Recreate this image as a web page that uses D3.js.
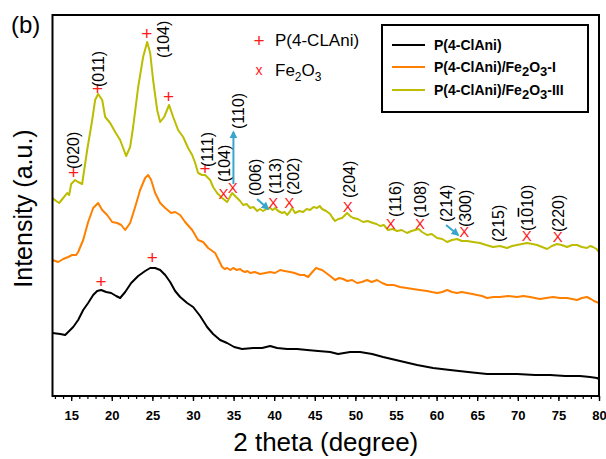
<!DOCTYPE html>
<html>
<head>
<meta charset="utf-8">
<script src="https://cdn.jsdelivr.net/npm/d3@7"></script>
<style>
  body { margin: 0; background: #fff; }
  svg { display: block; }
</style>
</head>
<body>
<svg id="chart" width="606" height="459"></svg>
<script>
// ---- XRD patterns: 2θ (degree) and stacked intensity (a.u.) ----
const thetaPure = [12.7, 13.65, 14.26, 14.88, 15.25, 15.86, 16.48, 17.09, 17.71, 18.2, 18.69, 19.31, 19.92, 20.54, 21.03, 21.65, 22.39, 23.25, 24.11, 24.73, 25.34, 25.96, 26.58, 27.19, 27.8, 28.42, 29.28, 30.02, 30.88, 31.74, 32.48, 33.34, 34.2, 35.07, 36.05, 37.41, 38.51, 39.5, 40.36, 41.59, 42.82, 44.05, 45.41, 46.89, 47.87, 49.35, 50.58, 52.06, 53.41, 55.5, 57.6, 59.57, 61.66, 63.87, 66.21, 67.81, 69.91, 72.12, 73.97, 75.82, 77.66, 78.89, 79.75, 80];
const intensityPure = [63, 62, 61, 66, 69, 76, 86, 93, 101, 105, 106, 104, 103, 100, 98, 104, 113, 120, 125, 128, 128, 126, 121, 114, 105, 99, 93, 89, 80, 69, 62, 56, 53, 49, 47, 48, 48, 50, 48, 47, 47, 46, 45, 44, 42, 44, 44, 42, 39, 35, 31, 28, 26, 24, 22, 22, 22, 21, 21, 20, 20, 19, 18, 17];

const thetaFe1 = [12.7, 13.4, 14.02, 14.63, 15.12, 15.62, 15.86, 16.48, 17.09, 17.71, 18.32, 18.82, 19.43, 20.05, 20.66, 21.16, 21.65, 22.26, 22.88, 23.49, 24.11, 24.48, 24.85, 25.34, 25.96, 26.58, 27.31, 27.8, 28.42, 29.03, 29.9, 30.63, 31.25, 31.87, 32.73, 33.59, 33.9, 34.2, 34.6, 34.94, 35.4, 35.8, 36.1, 36.42, 36.7, 37.04, 37.6, 38.27, 38.9, 39.5, 40.1, 40.73, 41.3, 41.96, 42.5, 43.19, 43.7, 44.18, 44.7, 45.16, 45.5, 45.9, 46.4, 46.89, 47.5, 48.0, 48.49, 49.0, 49.6, 50.21, 50.8, 51.44, 52.0, 52.67, 53.3, 53.9, 54.7, 55.5, 56.3, 57.1, 57.9, 58.83, 59.4, 60.06, 60.7, 61.29, 61.9, 62.52, 63.1, 63.75, 64.4, 64.98, 65.6, 66.21, 67.0, 67.81, 68.8, 69.91, 70.7, 71.51, 72.1, 72.74, 73.5, 74.34, 75.2, 76.06, 76.7, 77.29, 77.9, 78.52, 79.0, 79.38, 80];
const intensityFe1 = [136, 134, 137, 139, 141, 141, 144, 156, 174, 188, 193, 186, 181, 174, 173, 171, 166, 173, 189, 206, 218, 221, 216, 203, 193, 188, 183, 184, 181, 174, 166, 156, 154, 148, 143, 129, 127, 128, 126, 128, 126, 127, 125, 124, 125, 123, 124, 122, 123, 124, 123, 126, 125, 124, 123, 121, 121, 119, 124, 128, 127, 126, 123, 120, 116, 118, 117, 115, 116, 113, 114, 116, 114, 116, 113, 111, 111, 109, 108, 107, 106, 105, 104, 103, 104, 106, 104, 103, 104, 103, 102, 101, 100, 98, 99, 99, 100, 99, 100, 99, 98, 97, 98, 99, 98, 98, 97, 96, 98, 99, 97, 95, 93];

const thetaFe3 = [12.7, 13.15, 13.52, 14.02, 14.51, 14.75, 15.0, 15.49, 15.86, 16.35, 16.97, 17.59, 17.95, 18.32, 18.82, 19.19, 19.8, 20.42, 21.03, 21.77, 22.26, 22.63, 23.25, 23.86, 24.36, 24.73, 25.09, 25.59, 25.96, 26.45, 27.06, 27.56, 28.17, 28.79, 29.4, 29.9, 30.27, 30.63, 31.13, 31.5, 32.11, 32.48, 32.97, 33.59, 34.2, 34.82, 35.44, 35.8, 36.18, 36.6, 37.04, 37.45, 37.9, 38.25, 38.64, 39.05, 39.5, 39.8, 40.11, 40.5, 40.98, 41.3, 41.59, 41.9, 42.21, 42.58, 43.1, 43.56, 44.0, 44.42, 44.85, 45.28, 45.6, 45.9, 46.4, 46.89, 47.2, 47.5, 47.9, 48.36, 48.98, 49.35, 49.72, 50.3, 50.95, 51.5, 52.18, 52.6, 53.04, 53.5, 54.02, 54.6, 55.13, 55.7, 56.36, 56.9, 57.35, 57.8, 58.21, 58.83, 59.4, 60.06, 60.7, 61.29, 61.9, 62.52, 63.1, 63.75, 64.5, 65.35, 66.1, 66.95, 67.8, 68.67, 69.3, 69.91, 70.5, 71.14, 71.8, 72.37, 73.0, 73.6, 74.2, 74.83, 75.4, 76.06, 76.7, 77.29, 77.9, 78.52, 78.9, 79.26, 79.7, 80];
const intensityFe3 = [198, 195, 193, 198, 203, 201, 212, 216, 214, 212, 246, 276, 296, 302, 296, 279, 273, 264, 256, 240, 249, 269, 309, 339, 354, 343, 316, 286, 274, 279, 291, 279, 266, 259, 248, 241, 233, 223, 221, 221, 216, 209, 203, 198, 194, 203, 198, 195, 191, 192, 188, 189, 185, 187, 185, 187, 188, 186, 188, 185, 183, 184, 181, 184, 188, 183, 185, 184, 187, 186, 189, 188, 190, 187, 185, 182, 178, 175, 177, 178, 183, 180, 178, 177, 174, 175, 173, 172, 170, 171, 166, 167, 165, 166, 163, 165, 166, 167, 164, 161, 162, 158, 157, 154, 156, 157, 155, 155, 154, 153, 151, 149, 150, 148, 150, 151, 152, 153, 152, 151, 149, 147, 150, 152, 151, 149, 151, 151, 149, 148, 150, 149, 147, 144];

const seriesNames = ["P(4-ClAni)", "P(4-ClAni)/Fe", "P(4-ClAni)/Fe"];
const seriesColors = ["#000000", "#ff8000", "#bcbc00"];
const xTicks = [15, 20, 25, 30, 35, 40, 45, 50, 55, 60, 65, 70, 75, 80];

// P(4-ClAni) reflections, marked with +
const polyPeakTheta = [18.69, 25.0, 15.28, 18.24, 24.32, 26.98, 31.5];
const polyPeakLevel = [115, 139, 224, 308, 363, 300, 228];

// Fe2O3 reflections, marked with x
const ferPeakTheta = [33.75, 34.9, 39.9, 41.87, 49.06, 54.35, 57.96, 63.42, 71.1, 74.92];
const ferPeakLevel = [202, 208, 193, 193, 189, 172, 172, 164, 160, 159];

// hkl indices, written upward from their anchor
const hklText = ["(020)", "(011)", "(104)", "(111)", "(104)", "(110)", "(006)", "(113)", "(202)", "(204)", "(116)", "(108)", "(214)", "(300)", "(215)", "(1010)", "(220)"];
const hklTheta = [15.25, 18.32, 26.33, 31.74, 33.84, 35.56, 37.65, 40.11, 42.33, 49.22, 54.89, 57.96, 61.17, 63.5, 67.57, 71.14, 74.95];
const hklLevel = [227, 309, 338, 229, 214, 267, 200, 202, 201, 198, 179, 178, 174, 169, 154, 165, 164];

// pointer arrows: start / end (2θ, level)
const arrowFrom = [[34.98, 212], [37.9, 197], [61.17, 171]];
const arrowTo = [[34.98, 264], [39.25, 187], [62.65, 161]];

// ---- layout ----
const svg = d3.select("#chart");
const plotL = 52.5, plotR = 599, plotT = 15, plotB = 396;
const x = d3.scaleLinear().domain([12.7, 80]).range([plotL, plotR]);
const y = d3.scaleLinear().domain([0, 381]).range([plotB, plotT]);
const font = "Arial, 'Liberation Sans', sans-serif";

const defs = svg.append("defs");
defs.append("clipPath").attr("id", "plotArea")
  .append("rect").attr("x", plotL).attr("y", plotT)
  .attr("width", plotR - plotL).attr("height", plotB - plotT);
defs.append("marker").attr("id", "head")
  .attr("viewBox", "0 0 10 10").attr("refX", 8).attr("refY", 5)
  .attr("markerWidth", 4).attr("markerHeight", 4)
  .attr("orient", "auto")
  .append("path").attr("d", "M0,0 L10,5 L0,10 Z").attr("fill", "#3aa5cc");

// patterns
const line = d3.line().x(d => x(d[0])).y(d => y(d[1]));
const patterns = [
  d3.zip(thetaPure, intensityPure),
  d3.zip(thetaFe1, intensityFe1),
  d3.zip(thetaFe3, intensityFe3)
];
svg.append("g").attr("clip-path", "url(#plotArea)")
  .selectAll("path").data(patterns).join("path")
  .attr("d", line)
  .attr("fill", "none")
  .attr("stroke", (d, i) => seriesColors[i])
  .attr("stroke-width", 2)
  .attr("stroke-linejoin", "round");

// x axis: minor ticks every degree, labelled every 5
const minor = svg.append("g").attr("transform", `translate(0,${plotB})`)
  .call(d3.axisBottom(x).tickValues(d3.range(13, 81)).tickSize(3).tickFormat(""));
minor.select(".domain").remove();
minor.selectAll("line").attr("stroke", "#000").attr("stroke-width", 1.2);

const major = svg.append("g").attr("transform", `translate(0,${plotB})`)
  .call(d3.axisBottom(x).tickValues(xTicks).tickSize(5).tickPadding(10).tickSizeOuter(0));
major.select(".domain").remove();
major.selectAll("line").attr("stroke", "#000").attr("stroke-width", 1.4);
major.selectAll("text")
  .attr("font-family", font)
  .attr("font-size", 13).attr("font-weight", "bold").attr("fill", "#000");

// frame
svg.append("rect").attr("x", plotL).attr("y", plotT)
  .attr("width", plotR - plotL).attr("height", plotB - plotT)
  .attr("fill", "none").attr("stroke", "#000").attr("stroke-width", 2);

// peak markers
svg.append("g").selectAll("text").data(d3.zip(polyPeakTheta, polyPeakLevel)).join("text")
  .attr("x", d => x(d[0])).attr("y", d => y(d[1]))
  .attr("text-anchor", "middle").attr("dy", "0.35em")
  .attr("font-family", font).attr("font-size", 19).attr("fill", "#ff1a1a")
  .text("+");

svg.append("g").selectAll("text").data(d3.zip(ferPeakTheta, ferPeakLevel)).join("text")
  .attr("x", d => x(d[0])).attr("y", d => y(d[1]))
  .attr("text-anchor", "middle").attr("dy", "0.36em")
  .attr("font-family", font).attr("font-size", 15).attr("fill", "#ff1a1a")
  .text("X");

// hkl labels
const hkl = svg.append("g").selectAll("text").data(d3.range(hklText.length)).join("text")
  .attr("transform", i => `translate(${x(hklTheta[i])},${y(hklLevel[i])}) rotate(-90)`)
  .attr("dy", "0.35em")
  .attr("font-family", font).attr("font-size", 16).attr("fill", "#000");
hkl.each(function(i) {
  const t = d3.select(this);
  if (hklText[i] === "(1010)") {
    t.append("tspan").text("(1");
    t.append("tspan").attr("text-decoration", "overline").text("0");
    t.append("tspan").text("10)");
  } else {
    t.text(hklText[i]);
  }
});

// arrows
svg.append("g").selectAll("line").data(d3.range(arrowFrom.length)).join("line")
  .attr("x1", i => x(arrowFrom[i][0])).attr("y1", i => y(arrowFrom[i][1]))
  .attr("x2", i => x(arrowTo[i][0])).attr("y2", i => y(arrowTo[i][1]))
  .attr("stroke", "#3aa5cc").attr("stroke-width", 2)
  .attr("marker-end", "url(#head)");

// symbol key
const key = svg.append("g").attr("font-family", font).attr("fill", "#000");
key.append("text").attr("x", 259).attr("y", 40).attr("dy", "0.35em")
  .attr("text-anchor", "middle").attr("font-size", 19).attr("fill", "#ff1a1a").text("+");
key.append("text").attr("x", 275).attr("y", 40).attr("dy", "0.35em")
  .attr("font-size", 17).text("P(4-CLAni)");
key.append("text").attr("x", 259).attr("y", 70).attr("dy", "0.35em")
  .attr("text-anchor", "middle").attr("font-size", 14).attr("fill", "#ff1a1a").text("x");
const feKey = key.append("text").attr("x", 275).attr("y", 70).attr("dy", "0.35em")
  .attr("font-size", 17);
feKey.append("tspan").text("Fe");
feKey.append("tspan").attr("font-size", 12).attr("dy", 5).text("2");
feKey.append("tspan").attr("dy", -5).text("O");
feKey.append("tspan").attr("font-size", 12).attr("dy", 5).text("3");

// series legend
const lg = svg.append("g");
lg.append("rect").attr("x", 382).attr("y", 25).attr("width", 206).attr("height", 87)
  .attr("fill", "#fff").attr("stroke", "#000").attr("stroke-width", 2);
const rowsY = [45, 67, 90];
const suffix = ["", "-I", "-III"];
seriesNames.forEach((name, i) => {
  lg.append("line").attr("x1", 392).attr("x2", 425).attr("y1", rowsY[i]).attr("y2", rowsY[i])
    .attr("stroke", seriesColors[i]).attr("stroke-width", 2);
  const t = lg.append("text").attr("x", 434).attr("y", rowsY[i]).attr("dy", "0.35em")
    .attr("font-family", font).attr("font-size", 14).attr("font-weight", "bold");
  t.append("tspan").text(name);
  if (i > 0) {
    t.append("tspan").attr("font-size", 13).attr("dy", 4).text("2");
    t.append("tspan").attr("dy", -4).text("O");
    t.append("tspan").attr("font-size", 13).attr("dy", 4).text("3");
    t.append("tspan").attr("dy", -4).text(suffix[i]);
  }
});

// axis titles and panel tag
svg.append("text").attr("x", (plotL + plotR) / 2).attr("y", 451)
  .attr("text-anchor", "middle").attr("font-family", font).attr("font-size", 26)
  .text("2 theta (degree)");
svg.append("text")
  .attr("transform", `translate(32,${(plotT + plotB) / 2 + 3}) rotate(-90)`)
  .attr("text-anchor", "middle").attr("font-family", font).attr("font-size", 25)
  .text("Intensity (a.u.)");
svg.append("text").attr("x", 11).attr("y", 33)
  .attr("font-family", font).attr("font-size", 24).text("(b)");
</script>
</body>
</html>
